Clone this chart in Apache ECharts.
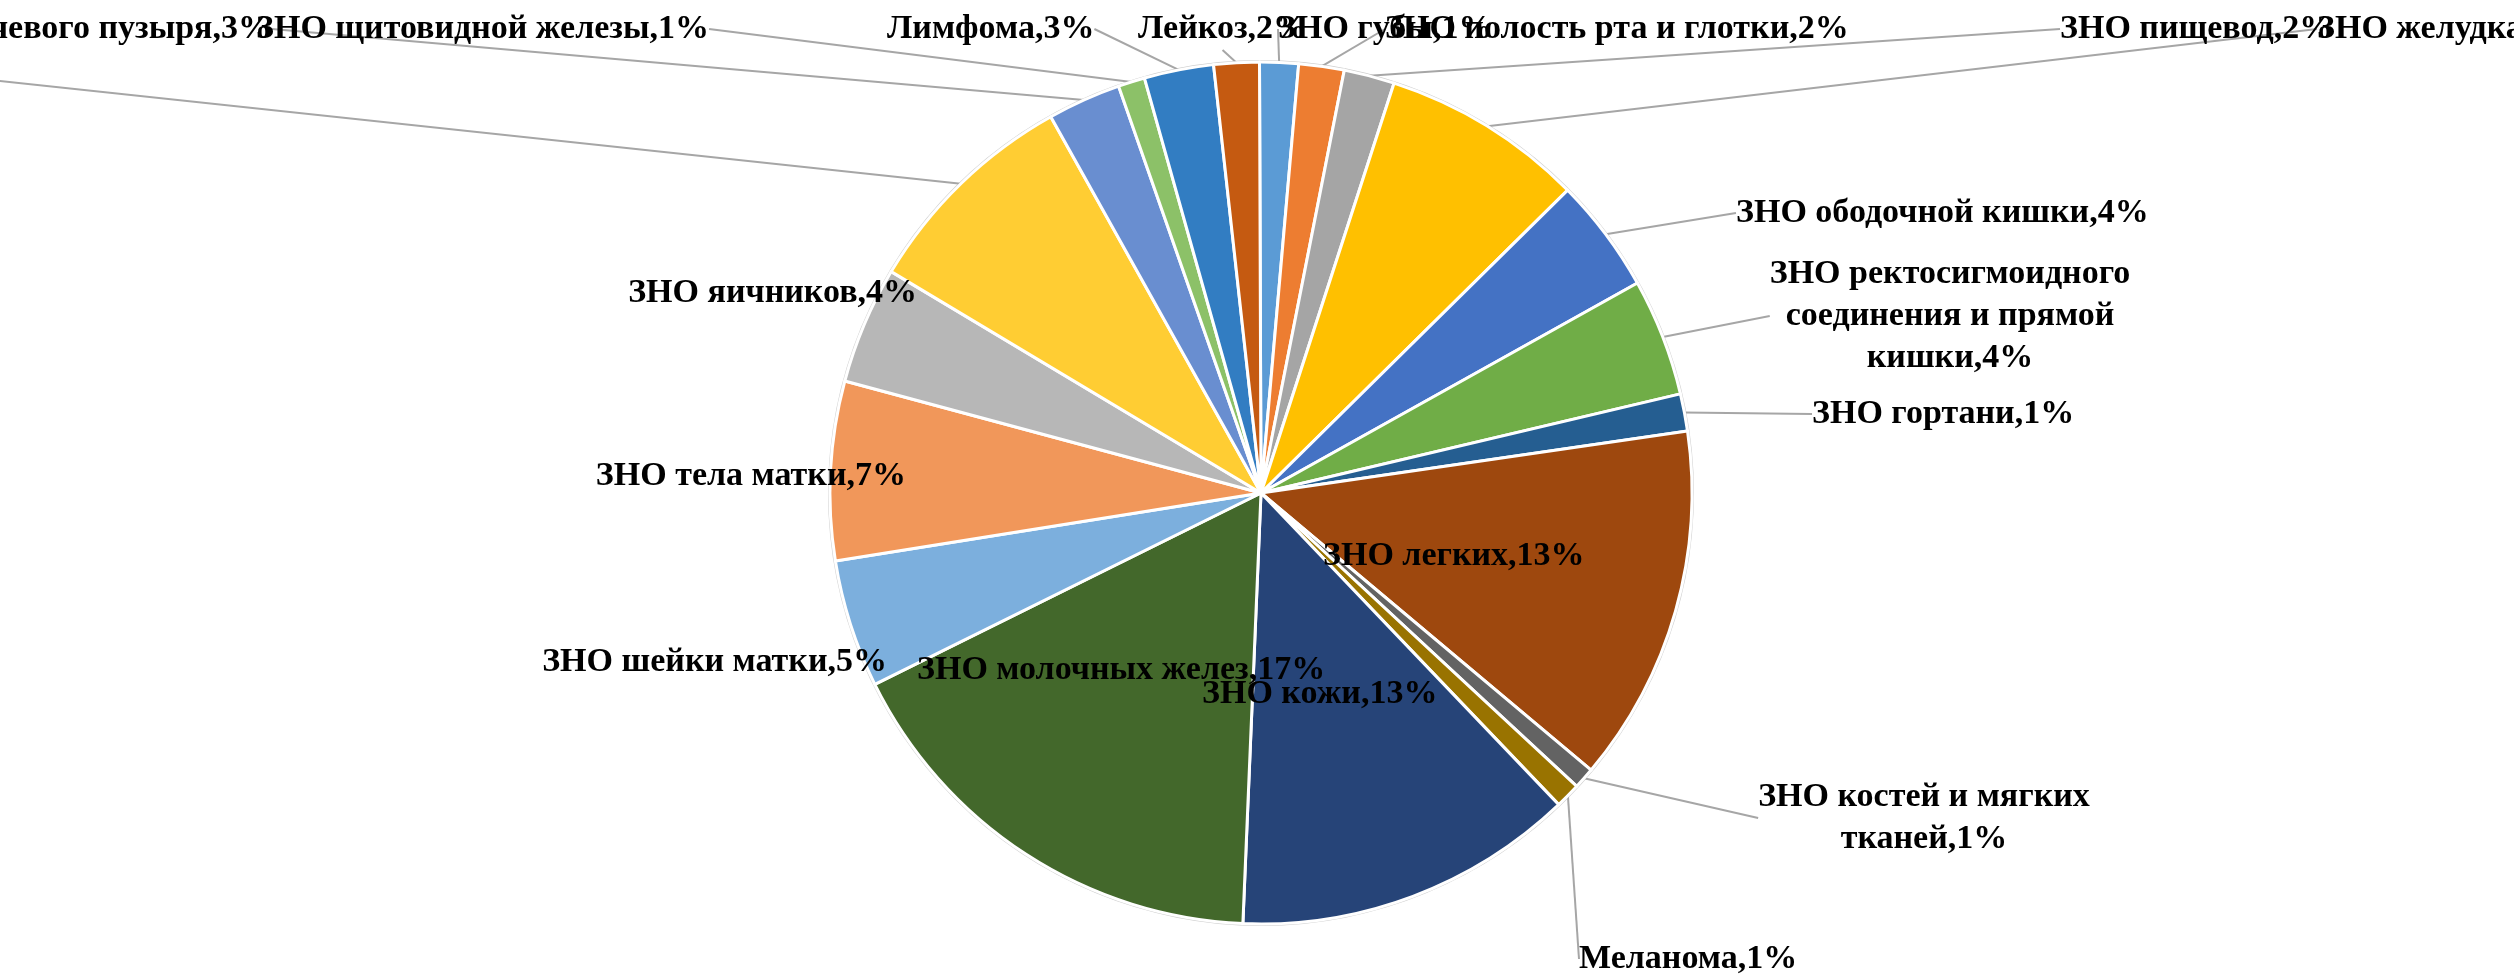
<!DOCTYPE html>
<html>
<head>
<meta charset="utf-8">
<script src="https://cdn.jsdelivr.net/npm/echarts/dist/echarts.min.js"></script>
<style>
html,body{margin:0;padding:0;background:#ffffff;}
#chart{width:2514px;height:978px;}
</style>
</head>
<body>
<div id="chart"></div>
<script>
// ---- data (clockwise from 12 o'clock) ----
const categories = [
  'ЗНО губы',
  'ЗНО полость рта и глотки',
  'ЗНО пищевод',
  'ЗНО желудка',
  'ЗНО ободочной кишки',
  'ЗНО ректосигмоидного\nсоединения и прямой\nкишки',
  'ЗНО гортани',
  'ЗНО легких',
  'ЗНО костей и мягких\nтканей',
  'Меланома',
  'ЗНО кожи',
  'ЗНО молочных желез',
  'ЗНО шейки матки',
  'ЗНО тела матки',
  'ЗНО яичников',
  'ЗНО почки',
  'ЗНО мочевого пузыря',
  'ЗНО щитовидной железы',
  'Лимфома',
  'Лейкоз'
];
const values = [1.45, 1.7, 1.9, 7.6, 4.3, 4.4, 1.4, 13.4, 0.8, 0.95, 12.8, 17.0, 4.8, 6.7, 4.4, 8.3, 2.75, 1.0, 2.6, 1.7];

// ---- styles / layout ----
const colors = ['#5B9BD5','#ED7D31','#A5A5A5','#FFC000','#4472C4','#70AD47','#255E91','#9E480E','#636363','#997300',
                '#264478','#43682B','#7CAFDD','#F1975A','#B7B7B7','#FFCD33','#698ED0','#8CC168','#327DC2','#C55A11'];
const insideLabel = [7, 10, 11];
const labelAnchors = [
  [1278, 29, 'left'], [1385, 29, 'left'], [2060, 29, 'left'], [2317, 29, 'left'],
  [1736, 213, 'left'], [1950, 316, 'center'], [1812, 414, 'left'], [1323, 556, 'left'],
  [1924, 818, 'center'], [1579, 959, 'left'], [1202, 694, 'left'], [917, 670, 'left'],
  [887, 662, 'right'], [906, 476, 'right'], [917, 293, 'right'], [-10, 80, 'right'],
  [272, 29, 'right'], [256, 29, 'left'], [887, 29, 'left'], [1138, 29, 'left']
];

const chart = echarts.init(document.getElementById('chart'), null, {renderer: 'canvas'});
chart.setOption({
  backgroundColor: '#ffffff',
  animation: false,
  series: [
    {
      type: 'pie',
      silent: true,
      center: [1261, 493],
      radius: [430, 433],
      z: 1,
      label: {show: false},
      labelLine: {show: false},
      itemStyle: {color: '#cfcfcf', borderWidth: 0},
      data: [{value: 1, name: ''}]
    },
    {
      type: 'pie',
      center: [1261, 493],
      radius: 431,
      startAngle: 90.2,
      clockwise: true,
      z: 2,
      avoidLabelOverlap: false,
      itemStyle: {borderColor: '#ffffff', borderWidth: 3},
      label: {
        show: true,
        position: 'outside',
        formatter: p => p.name + ',' + Math.round(p.percent) + '%',
        fontFamily: 'Liberation Serif',
        fontWeight: 'bold',
        fontSize: 34,
        lineHeight: 42,
        color: '#000000'
      },
      labelLine: {show: true, length: 10, length2: 0, lineStyle: {color: '#a6a6a6', width: 2}},
      labelLayout: function (p) {
        const a = labelAnchors[p.dataIndex];
        return {x: a[0], y: a[1], align: a[2], verticalAlign: 'middle', hideOverlap: false};
      },
      data: categories.map((n, i) => ({
        name: n,
        value: values[i],
        itemStyle: {color: colors[i]},
        labelLine: {show: insideLabel.indexOf(i) < 0}
      }))
    }
  ]
});
</script>
</body>
</html>
